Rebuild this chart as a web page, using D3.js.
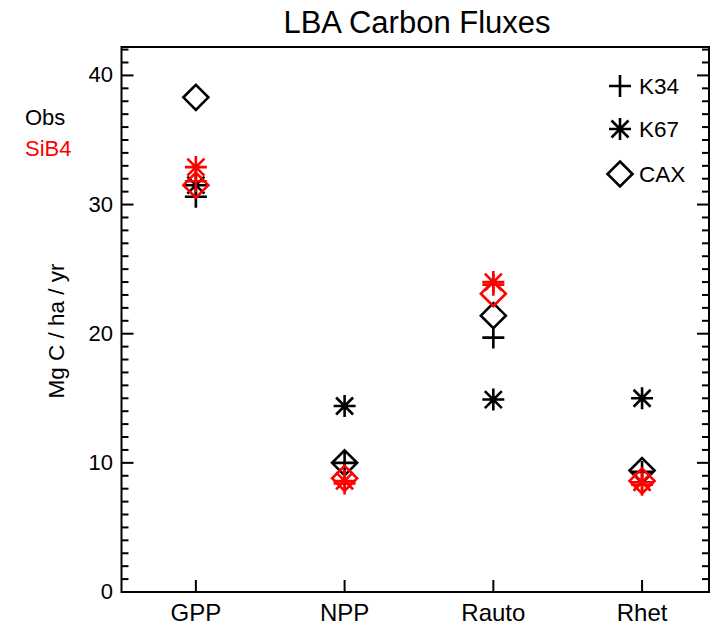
<!DOCTYPE html>
<html>
<head>
<meta charset="utf-8">
<script src="https://cdn.jsdelivr.net/npm/d3@7"></script>
<style>
  html, body { margin: 0; padding: 0; background: #fff; }
  svg { display: block; font-family: "Liberation Sans", Arial, Helvetica, sans-serif; }
</style>
</head>
<body>
<svg id="chart" width="713" height="631"></svg>
<script>
// ---- data ----
const categories = ["GPP", "NPP", "Rauto", "Rhet"];
const sites = ["K34", "K67", "CAX"];
const symbols = ["plus", "asterisk", "diamond"];
const obsK34 = [30.6, 10.0, 19.7, 9.3];
const obsK67 = [31.5, 14.4, 14.9, 15.0];
const obsCAX = [38.3, 10.0, 21.4, 9.4];
const sibK34 = [31.8, 8.4, 23.8, 8.3];
const sibK67 = [32.9, 8.6, 24.0, 8.5];
const sibCAX = [31.5, 8.8, 23.1, 8.6];
const yTicks = [0, 10, 20, 30, 40];
const groups = [
  { name: "Obs", color: "#000000", series: [obsK34, obsK67, obsCAX] },
  { name: "SiB4", color: "#ff0000", series: [sibK34, sibK67, sibCAX] }
];

// ---- layout ----
const L = 121.5, R = 709, T = 47, B = 592;
const svg = d3.select("#chart");
const x = d3.scaleLinear().domain([0.5, 4.45]).range([L, R]);
const y = d3.scaleLinear().domain([0, 42.2]).range([B, T]);
const xi = i => x(i + 1);

// frame
svg.append("rect").attr("x", L).attr("y", T).attr("width", R - L).attr("height", B - T)
  .attr("fill", "none").attr("stroke", "#000").attr("stroke-width", 2);

// y ticks (left, inward) + minor
const minor = d3.range(0, 43, 1);
const gAx = svg.append("g").attr("stroke", "#000").attr("stroke-width", 2);
minor.forEach(v => {
  const len = (v % 10 === 0) ? 12 : 7;
  gAx.append("line").attr("x1", L).attr("x2", L + len).attr("y1", y(v)).attr("y2", y(v));
  gAx.append("line").attr("x1", R).attr("x2", R - len).attr("y1", y(v)).attr("y2", y(v));
});
// x ticks bottom
categories.forEach((c, i) => {
  gAx.append("line").attr("x1", xi(i)).attr("x2", xi(i)).attr("y1", B).attr("y2", B - 12);
});

// tick labels
svg.append("g").selectAll("text").data(yTicks).join("text")
  .attr("x", 113).attr("y", d => y(d) + 7)
  .attr("text-anchor", "end").attr("font-size", 22).attr("fill", "#000")
  .text(d => d);
svg.append("g").selectAll("text").data(categories).join("text")
  .attr("x", (d, i) => xi(i)).attr("y", 621)
  .attr("text-anchor", "middle").attr("font-size", 24).attr("fill", "#000")
  .text(d => d);

// title
svg.append("text").attr("x", 417).attr("y", 33).attr("text-anchor", "middle")
  .attr("font-size", 31).attr("fill", "#000").text("LBA Carbon Fluxes");

// y label
svg.append("text").attr("transform", "translate(64,331) rotate(-90)")
  .attr("text-anchor", "middle").attr("font-size", 22.5).attr("fill", "#000")
  .text("Mg C / ha / yr");

// Obs / SiB4
svg.append("text").attr("x", 25).attr("y", 125).attr("font-size", 22).attr("fill", "#000").text("Obs");
svg.append("text").attr("x", 25).attr("y", 156).attr("font-size", 22).attr("fill", "#ff0000").text("SiB4");

// symbols
function drawSymbol(g, type, cx, cy, color) {
  const s = g.append("g").attr("transform", `translate(${cx},${cy})`)
    .attr("stroke", color).attr("stroke-width", 2.6).attr("fill", "none");
  if (type === "plus") {
    s.append("path").attr("d", "M-11,0H11M0,-11V11");
  } else if (type === "asterisk") {
    s.append("path").attr("d", "M-11,0H11M0,-11V11M-8.5,-8.5L8.5,8.5M-8.5,8.5L8.5,-8.5");
  } else {
    s.append("path").attr("d", "M0,-12.5L12.5,0L0,12.5L-12.5,0Z");
  }
}

const gm = svg.append("g");
groups.forEach(grp => {
  grp.series.forEach((vals, si) => {
    vals.forEach((v, ci) => drawSymbol(gm, symbols[si], xi(ci), y(v), grp.color));
  });
});

// legend
const legY = [86, 129, 174];
sites.forEach((s, i) => {
  drawSymbol(svg, symbols[i], 620, legY[i], "#000");
  svg.append("text").attr("x", 639).attr("y", legY[i] + 8).attr("font-size", 22.5)
    .attr("fill", "#000").text(s);
});
</script>
</body>
</html>
